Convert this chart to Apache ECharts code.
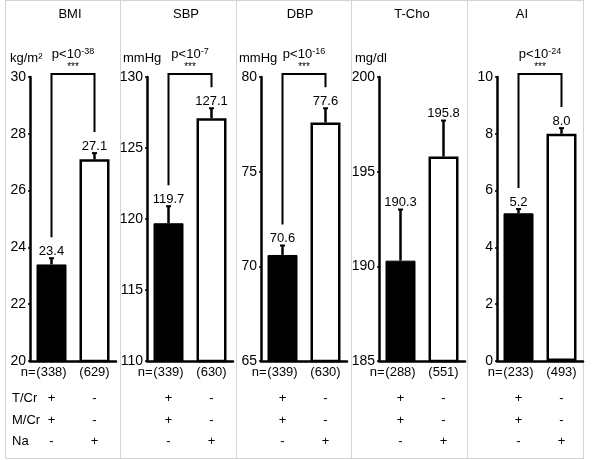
<!DOCTYPE html>
<html>
<head>
<meta charset="utf-8">
<script src="https://cdn.jsdelivr.net/npm/echarts@6/dist/echarts.min.js"></script>
<style>html,body{margin:0;background:#fff}#box{width:600px;height:460px}</style>
</head>
<body>
<div id="box"></div>
<script>
// data
var panels = ['BMI', 'SBP', 'DBP', 'T-Cho', 'AI'];
var units = ['kg/m²', 'mmHg', 'mmHg', 'mg/dl', ''];
var meanTCr = [23.4, 119.7, 70.6, 190.3, 5.2];
var meanNa = [27.1, 127.1, 77.6, 195.8, 8.0];
var errTCr = [0.22, 1.2, 0.5, 2.7, 0.15];
var errNa = [0.22, 0.7, 0.75, 1.9, 0.2];
var nTCr = [338, 339, 339, 288, 233];
var nNa = [629, 630, 630, 551, 493];
var pExp = ['-38', '-7', '-16', '', '-24'];
var yMin = [20, 110, 65, 185, 0];
var yMax = [30, 130, 80, 200, 10];
var yStep = [2, 5, 5, 5, 2];
var rowNames = ['T/Cr', 'M/Cr', 'Na'];
var signsTCr = ['+', '+', '-'];
var signsNa = ['-', '-', '+'];

// layout
var gridLeft = [30, 147, 261, 379, 497];
var gridWidth = 86;
var gridTop = 77;
var gridHeight = 284;
var panelEdges = [5, 120, 236, 351, 467, 583];
var titleX = [70, 186, 300, 412, 522];
var unitX = [10, 123, 239, 355, 470];
var rowOffsets = [37, 59, 80];
var font = 'Liberation Sans, Arial, sans-serif';

var dom = document.getElementById('box');
var myChart = echarts.init(dom);

var grids = [], xAxes = [], yAxes = [], series = [], graphics = [];

panels.forEach(function (name, i) {
    grids.push({left: gridLeft[i], top: gridTop, width: gridWidth, height: gridHeight});
    xAxes.push({
        type: 'category', gridIndex: i, data: ['T/Cr', 'Na'],
        axisLine: {lineStyle: {color: '#000', width: 2.5}},
        axisTick: {inside: true, length: 4, lineStyle: {color: '#000', width: 2}},
        axisLabel: {show: false}
    });
    yAxes.push({
        type: 'value', gridIndex: i, min: yMin[i], max: yMax[i], interval: yStep[i],
        axisLine: {show: true, lineStyle: {color: '#000', width: 2.5}},
        axisTick: {show: true, length: 2, lineStyle: {color: '#000', width: 1.5}},
        axisLabel: {color: '#000', fontSize: 14, fontFamily: font, margin: 4},
        splitLine: {show: false}
    });
    series.push({
        type: 'bar', xAxisIndex: i, yAxisIndex: i, barWidth: 30,
        data: [
            {value: meanTCr[i], itemStyle: {color: '#000', borderColor: '#000', borderWidth: 1}},
            {value: meanNa[i], itemStyle: {color: '#fff', borderColor: '#000', borderWidth: 2.5}}
        ]
    });
    // error bars, value labels, n and the +/- table
    series.push({
        type: 'custom', xAxisIndex: i, yAxisIndex: i, z: 5,
        data: [[0, meanTCr[i], errTCr[i], nTCr[i]], [1, meanNa[i], errNa[i], nNa[i]]],
        renderItem: function (params, api) {
            var k = api.value(0);
            var base = api.coord([k, api.value(1)]);
            var top = api.coord([k, api.value(1) + api.value(2)]);
            var bottom = api.coord([k, yMin[i]]);
            var signs = k === 0 ? signsTCr : signsNa;
            var ts = function (t, x, y, size, align) {
                return {type: 'text', x: x, y: y, style: {text: t, fill: '#000', font: size + 'px ' + font,
                    align: align || 'center', verticalAlign: 'middle'}};
            };
            var kids = [
                {type: 'line', shape: {x1: base[0], y1: base[1], x2: top[0], y2: top[1]},
                    style: {stroke: '#000', lineWidth: 2.5}},
                {type: 'line', shape: {x1: top[0] - 2.5, y1: top[1], x2: top[0] + 2.5, y2: top[1]},
                    style: {stroke: '#000', lineWidth: 2}},
                ts(api.value(1).toFixed(1), top[0], top[1] - 7, 13),
                ts('(' + api.value(3) + ')', bottom[0], bottom[1] + 11, 13)
            ];
            if (k === 0) kids.push(ts('n=', bottom[0] - 16, bottom[1] + 11, 13, 'right'));
            signs.forEach(function (s, r) {
                kids.push(ts(s, bottom[0], bottom[1] + rowOffsets[r], 13));
            });
            return {type: 'group', children: kids};
        }
    });
    if (pExp[i]) {
        series.push({
            type: 'custom', xAxisIndex: i, yAxisIndex: i, z: 5,
            data: [[meanTCr[i] + errTCr[i], meanNa[i] + errNa[i]]],
            renderItem: function (params, api) {
                var l = api.coord([0, api.value(0)]);
                var r = api.coord([1, api.value(1)]);
                var yTop = api.coord([0, yMax[i]])[1] - 3;
                var cx = (l[0] + r[0]) / 2;
                return {type: 'group', children: [
                    {type: 'polyline', shape: {points: [[l[0], l[1] - 21], [l[0], yTop], [r[0], yTop], [r[0], r[1] - 21]]},
                        style: {stroke: '#000', lineWidth: 2, fill: null}},
                    {type: 'text', x: cx, y: yTop - 20, style: {
                        text: '{a|p<10}{b|' + pExp[i] + '}', align: 'center', verticalAlign: 'middle',
                        rich: {a: {fontSize: 13, fontFamily: font, fill: '#000'},
                            b: {fontSize: 9, fontFamily: font, fill: '#000', verticalAlign: 'top'}}}},
                    {type: 'text', x: cx, y: yTop - 7, style: {text: '***', fill: '#000',
                        font: '10px ' + font, align: 'center', verticalAlign: 'middle'}}
                ]};
            }
        });
    }
    graphics.push({type: 'text', x: titleX[i], y: 14, style: {text: name, fill: '#000',
        font: '13px ' + font, align: 'center', verticalAlign: 'middle'}});
    if (units[i]) {
        graphics.push({type: 'text', x: unitX[i], y: 58, style: {text: units[i], fill: '#000',
            font: '13px ' + font, align: 'left', verticalAlign: 'middle'}});
    }
});

rowNames.forEach(function (t, r) {
    graphics.push({type: 'text', x: 12, y: gridTop + gridHeight + rowOffsets[r], style: {text: t, fill: '#000',
        font: '13px ' + font, align: 'left', verticalAlign: 'middle'}});
});
panelEdges.forEach(function (x) {
    graphics.push({type: 'line', shape: {x1: x + 0.5, y1: 0, x2: x + 0.5, y2: 459}, style: {stroke: '#d4d4d4', lineWidth: 1}});
});
graphics.push({type: 'line', shape: {x1: 5, y1: 0.5, x2: 583, y2: 0.5}, style: {stroke: '#d4d4d4', lineWidth: 1}});
graphics.push({type: 'line', shape: {x1: 5, y1: 458.5, x2: 583, y2: 458.5}, style: {stroke: '#d4d4d4', lineWidth: 1}});

option = {
    animation: false,
    grid: grids,
    xAxis: xAxes,
    yAxis: yAxes,
    series: series,
    graphic: graphics
};
myChart.setOption(option, true);
</script>
</body>
</html>
